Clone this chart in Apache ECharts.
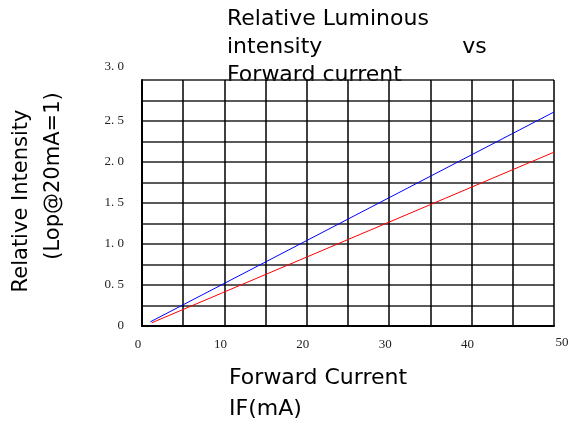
<!DOCTYPE html>
<html><head><meta charset="utf-8">
<script src="https://cdn.jsdelivr.net/npm/echarts@6/dist/echarts.min.js"></script>
<style>html,body{margin:0;padding:0;background:#fff}#c{width:574px;height:425px}</style>
</head><body><div id="c"></div>
<script>
const titleLines = ['Relative Luminous', 'intensity                    vs', 'Forward current'];
const yNameLines = ['Relative Intensity', '(Lop@20mA=1)'];
const xNameLines = ['Forward Current', 'IF(mA)'];
const xTicks = [0, 10, 20, 30, 40, 50];
const yTicks = [0, 0.5, 1.0, 1.5, 2.0, 2.5, 3.0];
const blueIF = [1.0, 50];
const blueRel = [0.05, 2.61];
const redIF = [1.2, 50];
const redRel = [0.04, 2.12];

const chart = echarts.init(document.getElementById('c'));
const serif = 'Liberation Serif';
chart.setOption({
  animation: false,
  grid: {left: 142, right: 20, top: 80, bottom: 99},
  xAxis: {
    type: 'value', min: 0, max: 50, interval: 5,
    axisLine: {show: true, lineStyle: {color: '#000', width: 2}},
    axisTick: {show: false},
    splitLine: {show: true, lineStyle: {color: '#000', width: 1.5}},
    axisLabel: {
      margin: 10,
      formatter: v => xTicks.indexOf(v) >= 0 ? (v === 50 ? '{e|50}' : '{n|' + v + '}') : '',
      rich: {
        n: {fontFamily: serif, fontSize: 13, color: '#222', padding: [2, 8, 0, 0]},
        e: {fontFamily: serif, fontSize: 13, color: '#222', padding: [0, 0, 16, 16]}
      }
    }
  },
  yAxis: {
    type: 'value', min: 0, max: 3, interval: 0.25,
    axisLine: {show: true, lineStyle: {color: '#000', width: 2}},
    axisTick: {show: false},
    splitLine: {show: true, lineStyle: {color: '#222', width: 1.5}},
    axisLabel: {
      margin: 18,
      formatter: v => {
        const i = yTicks.findIndex(t => Math.abs(t - v) < 1e-9);
        if (i < 0) return '';
        const s = v === 0 ? '0' : v.toFixed(1).replace('.', '. ');
        return v === 3 ? '{t|' + s + '}' : '{n|' + s + '}';
      },
      rich: {
        n: {fontFamily: serif, fontSize: 13, color: '#222'},
        t: {fontFamily: serif, fontSize: 13, color: '#222', padding: [0, 0, 26, 0]}
      }
    }
  },
  graphic: [
    {type: 'text', left: 227, top: 5, style: {text: titleLines.join('\n'), font: '22px "DejaVu Sans"', lineHeight: 28, fill: '#000'}},
    {type: 'text', left: 229, top: 363, style: {text: xNameLines.join('\n'), font: '22px "DejaVu Sans"', lineHeight: 31, fill: '#000'}},
    {type: 'text', x: 11, y: 201, rotation: Math.PI / 2, style: {text: yNameLines[0], font: '21px "DejaVu Sans"', fill: '#000', align: 'center', verticalAlign: 'top'}},
    {type: 'text', x: 43, y: 176, rotation: Math.PI / 2, style: {text: yNameLines[1], font: '21px "DejaVu Sans"', fill: '#000', align: 'center', verticalAlign: 'top'}}
  ],
  series: [
    {type: 'line', data: blueIF.map((x, i) => [x, blueRel[i]]), showSymbol: false, lineStyle: {color: '#0000ff', width: 1}, z: 5},
    {type: 'line', data: redIF.map((x, i) => [x, redRel[i]]), showSymbol: false, lineStyle: {color: '#ff0000', width: 1}, z: 5}
  ]
});
</script></body></html>
